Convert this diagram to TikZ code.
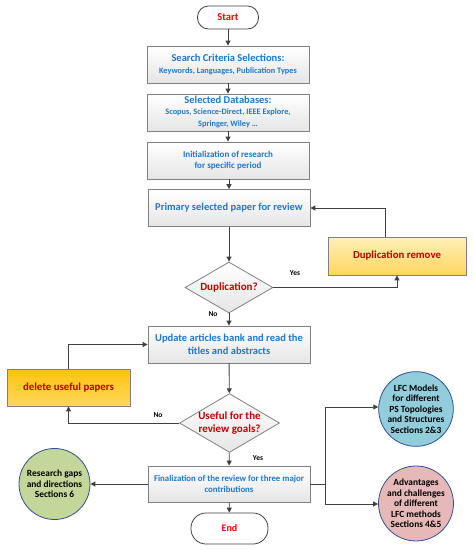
\documentclass[tikz,border=0pt]{standalone}
\usepackage{fontspec}
\setmainfont{Carlito}
\usetikzlibrary{shapes.geometric,arrows.meta}
\definecolor{txtblue}{HTML}{1F78C8}
\definecolor{txtred}{HTML}{C00000}
\definecolor{startred}{HTML}{FF0000}
\definecolor{bordergray}{HTML}{808080}
\definecolor{linegray}{HTML}{404040}
\definecolor{circgreen}{HTML}{C4D79B}
\definecolor{circblue}{HTML}{92CDDC}
\definecolor{circpink}{HTML}{E6B9B8}
\definecolor{circborder}{HTML}{2F4F8F}
\definecolor{yeltop}{HTML}{FFF0B8}
\definecolor{yelbot}{HTML}{FFD660}
\definecolor{orgtop}{HTML}{FFC20E}
\definecolor{orgbot}{HTML}{FFD75A}
\begin{document}
\begin{tikzpicture}[x=1pt,y=-1pt,
  procbox/.style={draw=bordergray, line width=0.8pt, top color=white, bottom color=black!10,
    minimum width=162pt, minimum height=37pt, align=center, text=txtblue, font=\bfseries, inner sep=2pt},
  term/.style={draw=linegray, line width=0.8pt, rounded corners=11pt, fill=white, text=startred,
    font=\bfseries\fontsize{10.5}{12}\selectfont, align=center},
  decision/.style={diamond, aspect=1.7, draw=bordergray, line width=0.8pt, top color=white, bottom color=black!10,
    text=txtred, font=\bfseries\fontsize{11}{12.5}\selectfont, align=center, inner sep=0pt},
  yelbox/.style={draw=bordergray, line width=0.8pt, align=center, text=txtred,
    font=\bfseries\fontsize{10.8}{12}\selectfont},
  circ/.style={circle, draw=circborder, line width=0.8pt, minimum size=71pt, inner sep=0pt, align=center,
    font=\bfseries\fontsize{9.4}{10.4}\selectfont},
  conn/.style={draw=linegray, line width=0.9pt, -{Triangle[length=5pt,width=5pt]}},
  plain/.style={draw=linegray, line width=0.9pt},
  lbl/.style={font=\bfseries\fontsize{7.5}{9}\selectfont, inner sep=0pt}
]
\useasboundingbox (0,0) rectangle (474,550);

\node[term, minimum width=61pt, minimum height=23pt] (start) at (228,17.5) {Start};
\node[procbox] (b1) at (228,64.5) {{\fontsize{10.5}{12}\selectfont Search Criteria Selections:}\\[0pt]{\fontsize{8.3}{10}\selectfont Keywords, Languages, Publication Types}};
\node[procbox] (b2) at (228,112.5) {{\fontsize{10.5}{11.5}\selectfont Selected Databases:}\\[-1pt]{\fontsize{8.3}{9.8}\selectfont Scopus, Science-Direct, IEEE Explore,}\\{\fontsize{8.3}{9.8}\selectfont Springer, Wiley \dots}};
\node[procbox, font=\bfseries\fontsize{9}{11}\selectfont] (b3) at (228,160.5) {Initialization of research\\for specific period};
\node[procbox, font=\bfseries\fontsize{10.5}{12}\selectfont] (b4) at (229,208) {Primary selected paper for review};
\node[yelbox, minimum width=138pt, minimum height=38pt, top color=yeltop, bottom color=yelbot] (dup) at (397,256) {Duplication remove};
\node[decision, minimum width=88pt, minimum height=51pt] (d1) at (229,287.5) {Duplication?};
\node[procbox, font=\bfseries\fontsize{10.5}{12.5}\selectfont] (b5) at (229,344.5) {Update articles bank and read the\\titles and abstracts};
\node[yelbox, minimum width=123pt, minimum height=37pt, top color=orgtop, bottom color=orgbot] (del) at (68.5,387.5) {delete useful papers};
\node[decision, minimum width=99pt, minimum height=58pt] (d2) at (229.5,423) {Useful for the\\review goals?};
\node[procbox, minimum height=36pt, font=\bfseries\fontsize{8.8}{11}\selectfont] (b6) at (229,484) {Finalization of the review for three major\\contributions};
\node[term, minimum width=77pt, minimum height=31pt, rounded corners=15pt, font=\bfseries\fontsize{10}{12}\selectfont] (endn) at (229.5,528.5) {End};
\node[circ, fill=circgreen] (cg) at (54.5,484) {Research gaps\\and directions\\Sections 6};
\node[circ, fill=circblue] (cb) at (416,409) {LFC Models\\for different\\PS Topologies\\and Structures\\Sections 2\&3};
\node[circ, fill=circpink] (cp) at (416,503.5) {Advantages\\and challenges\\of different\\LFC methods\\Sections 4\&5};

\coordinate (j1) at (325,484);
\coordinate (j1u) at (325,407);
\coordinate (j1d) at (325,504);

\draw[conn] (start) -- (b1);
\draw[conn] (b1) -- (b2);
\draw[conn] (b2) -- (b3);
\draw[conn] (b3.south -| b4.north) -- (b4);
\draw[conn] (b4) -- (d1);
\draw[conn] (d1.east) -| (dup.south);
\draw[conn] (dup.north -| 385,0) |- (b4.east);
\draw[conn] (d1) -- (b5);
\draw[conn] (b5) -- (d2);
\draw[conn] (d2.west) -| (del.south);
\draw[conn] (del.north) |- (b5.west);
\draw[conn] (d2) -- (b6);
\draw[conn] (b6) -- (endn);
\draw[conn] (b6.west) -- (cg.east);
\draw[plain] (b6.east) -- (j1);
\draw[conn] (j1) -- (j1u) -- (j1u -| cb.west);
\draw[conn] (j1) -- (j1d) -- (j1d -| cp.west);

\node[lbl] (yes1) at (295,273) {Yes};
\node[lbl] (no1) at (213,314) {No};
\node[lbl] (no2) at (158,415) {No};
\node[lbl] (yes2) at (258,458) {Yes};
\end{tikzpicture}
\end{document}
